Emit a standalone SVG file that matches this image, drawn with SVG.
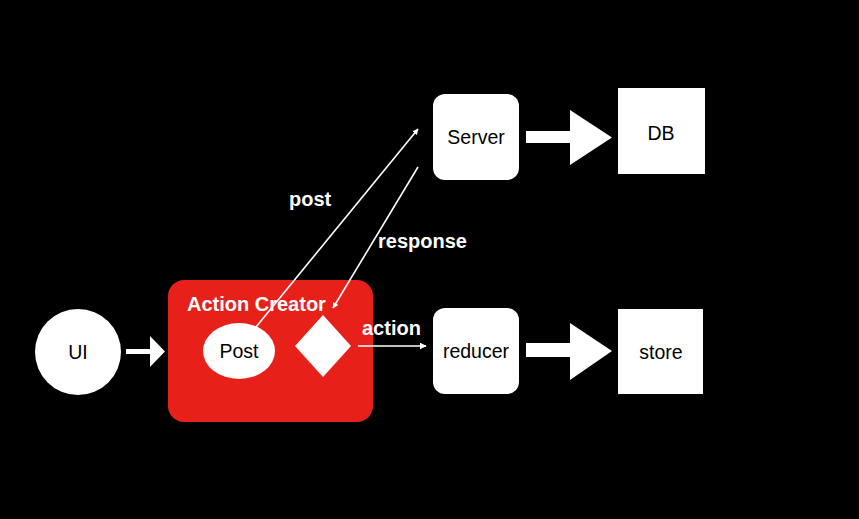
<svg xmlns="http://www.w3.org/2000/svg" width="859" height="519" viewBox="0 0 859 519">
<defs>
<style>
.lbl{font-family:"Liberation Sans",Arial,sans-serif;font-size:19.5px;fill:#000;text-anchor:middle}
.bl{font-family:"Liberation Sans",Arial,sans-serif;font-size:20px;font-weight:bold;fill:#fff}
.w{fill:#fff}
.thin{stroke:#fff;stroke-width:1.6;fill:none}
</style>
<marker id="ah" viewBox="0 0 10 10" refX="9" refY="5" markerWidth="6" markerHeight="6" markerUnits="userSpaceOnUse" orient="auto"><path d="M0,0 L10,5 L0,10 z" fill="#fff"/></marker>
<marker id="ah2" viewBox="0 0 10 10" refX="9" refY="5" markerWidth="7" markerHeight="7" markerUnits="userSpaceOnUse" orient="auto"><path d="M0,0 L10,5 L0,10 z" fill="#fff"/></marker>
</defs>
<rect width="859" height="519" fill="#000"/>
<g id="ui"><circle class="w" cx="78" cy="352" r="43"/><text class="lbl" x="78" y="359">UI</text></g>
<g id="action-creator">
<rect x="168" y="280" width="205" height="142" rx="16" fill="#e8201a"/>
<text class="bl" x="187" y="311">Action Creator</text>
</g>
<g id="post"><ellipse class="w" cx="239" cy="351" rx="36" ry="28"/><text class="lbl" x="239" y="358">Post</text></g>
<g id="diamond"><path class="w" d="M323,315 L351,346 L323,377 L295,346 z"/></g>
<g id="server"><rect class="w" x="433" y="94" width="86" height="86" rx="12"/><text class="lbl" x="476" y="144">Server</text></g>
<g id="db"><rect class="w" x="618" y="88" width="87" height="86"/><text class="lbl" x="661" y="140">DB</text></g>
<g id="reducer"><rect class="w" x="433" y="308" width="86" height="86" rx="12"/><text class="lbl" x="476" y="358">reducer</text></g>
<g id="store"><rect class="w" x="618" y="309" width="85" height="85"/><text class="lbl" x="661" y="359">store</text></g>
<g id="connectors">
<path class="w" d="M126,349 L150,349 L150,336 L165,351.5 L150,367 L150,354 L126,354 z"/>
<path class="w" d="M526,131 L570,131 L570,110 L612,137.5 L570,165 L570,143 L526,143 z"/>
<path class="w" d="M526,343 L570,343 L570,323 L612,351 L570,380 L570,357 L526,357 z"/>
<line class="thin" x1="256" y1="327" x2="418" y2="129" marker-end="url(#ah)"/>
<line class="thin" x1="418" y1="167" x2="333" y2="308" marker-end="url(#ah)"/>
<line class="thin" x1="358" y1="346" x2="426" y2="346" marker-end="url(#ah2)"/>
<text class="bl" x="289" y="206">post</text>
<text class="bl" x="378" y="248">response</text>
<text class="bl" x="362" y="335">action</text>
</g>
</svg>
